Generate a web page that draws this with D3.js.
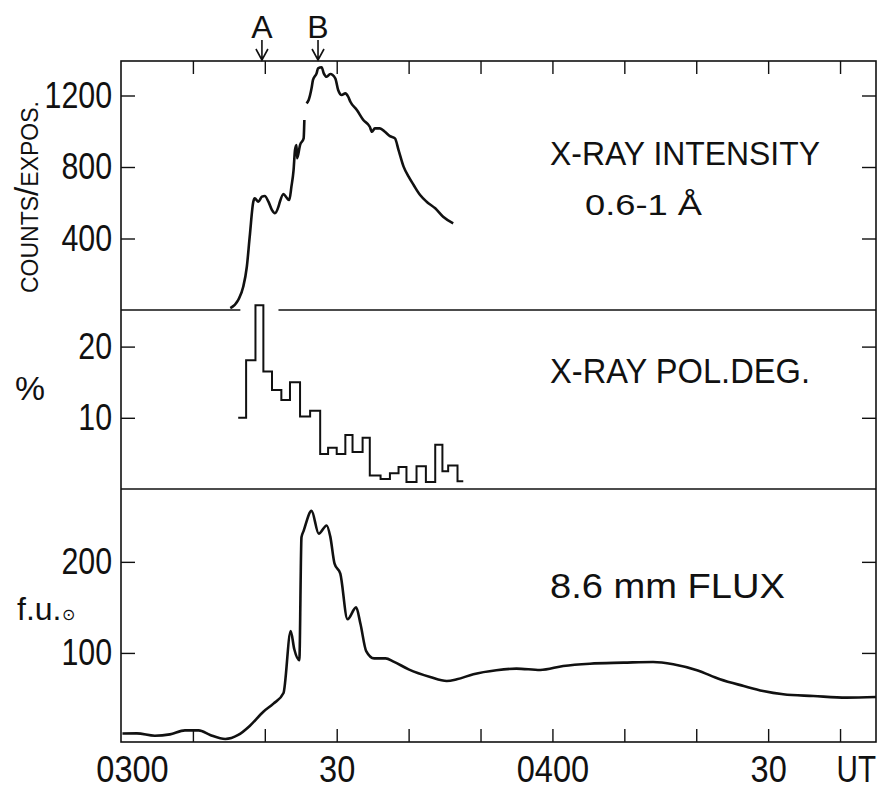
<!DOCTYPE html>
<html>
<head>
<meta charset="utf-8">
<script src="https://cdn.jsdelivr.net/npm/d3@7"></script>
<style>
  body { margin: 0; background: #fff; }
  svg text { font-family: "Liberation Sans", Arial, sans-serif; fill: #111; }
</style>
</head>
<body>
<div id="chart"></div>
<script>
// time in minutes after 0300 UT
const intensityTime = [15.2, 16.3, 17.0, 17.5, 17.9, 18.4, 18.6, 19.1, 19.6, 20.0, 20.5, 21.0, 21.4, 21.9, 22.1, 22.6, 23.0, 23.4, 23.7, 24.0, 24.2, 24.4, 24.5, 24.9, 25.4, 25.5, 25.65, 25.8, 26.1, 26.5, 26.7, 27.2, 27.4, 27.9, 28.2, 28.6, 29.1, 29.8, 30.2, 30.7, 31.2, 31.6, 31.9, 32.8, 33.7, 34.6, 34.9, 35.3, 36.0, 36.7, 37.4, 38.1, 38.6, 39.3, 40.0, 40.7, 41.6, 42.5, 43.7, 44.8, 46.2];
const intensityValue = [10, 56, 130, 242, 410, 606, 625, 606, 634, 638, 606, 559, 541, 578, 606, 649, 630, 615, 690, 783, 895, 923, 849, 923, 960, 1063, null, 1156, 1175, 1240, 1287, 1324, 1352, 1358, 1324, 1305, 1320, 1296, 1231, 1203, 1212, 1193, 1165, 1119, 1063, 1025, 997, 1016, 1016, 997, 973, 960, 895, 802, 746, 699, 643, 606, 569, 522, 485];

const polEdges = [16.3, 17.4, 18.7, 19.8, 21.0, 22.3, 23.5, 24.9, 26.3, 27.7, 28.8, 30.0, 31.2, 32.2, 33.6, 34.6, 36.1, 37.4, 38.6, 39.7, 41.1, 42.4, 43.7, 44.7, 45.5, 46.8, 47.6];
const polValue = [10.0, 18.1, 25.8, 16.5, 13.9, 12.5, 15.0, 10.2, 11.0, 4.9, 5.8, 4.9, 7.6, 5.2, 7.2, 1.9, 1.4, 2.2, 3.1, 1.0, 3.2, 1.0, 6.2, 2.5, 3.3, 1.1];

const fluxTime = [0.2, 2.2, 4.7, 6.8, 8.9, 10.8, 12.4, 14.5, 16.3, 17.9, 19.8, 21.2, 22.6, 23.6, 24.1, 24.8, 25.1, 25.4, 26.5, 27.5, 28.6, 29.1, 29.7, 30.5, 31.5, 32.7, 33.3, 34.1, 35.2, 36.8, 37.9, 40.0, 43.0, 45.3, 46.7, 49.0, 52.2, 55.0, 58.3, 61.5, 65.2, 69.9, 74.0, 76.8, 80.1, 83.3, 86.6, 89.3, 92.1, 96.3, 100.9, 105];
const fluxValue = [11.5, 11.7, 9.1, 10.6, 15.0, 15.0, 9.9, 5.5, 9.9, 19.8, 35.5, 44.3, 56, 124, 104, 92, 227, 234, 256, 231, 240, 228, 198, 187, 137, 150, 132, 102, 94, 94, 90.5, 82, 73.6, 69.2, 71, 76.6, 81, 82.8, 81.3, 85.7, 88.2, 89.3, 90.1, 87.6, 81, 71.1, 63.7, 58.2, 54.6, 52.7, 50.9, 51.6];

const timeTicks = [10, 20, 30, 40, 50, 60, 70, 80, 90, 100];
const timeLabelAt = [0, 30, 60, 90];
const timeLabels = ['0300', '30', '0400', '30'];
const intensityTicks = [400, 800, 1200];
const polTicks = [10, 20];
const fluxTicks = [100, 200];
const markerLabels = ['A', 'B'];
const markerTime = [19.6, 27.4];

const width = 882;
const height = 790;
const ink = '#111';

const svg = d3.select('#chart')
  .append('svg')
  .attr('width', width)
  .attr('height', height);

svg.append('rect').attr('width', width).attr('height', height).attr('fill', '#fff');

const x = d3.scaleLinear().domain([0, 105]).range([121, 876]);
const yInt = d3.scaleLinear().domain([0, 1393]).range([310, 61]);
const yPol = d3.scaleLinear().domain([0, 25]).range([489, 311]);
const yFlux = d3.scaleLinear().domain([0, 280]).range([744, 489]);

const frameTop = 61, frameBottom = 742, frameLeft = x(0), frameRight = x(105);

// squeeze text horizontally like the narrow stencil lettering
function squeeze(sel, k) {
  sel.each(function () {
    const w = this.getComputedTextLength();
    d3.select(this).attr('textLength', w * k).attr('lengthAdjust', 'spacingAndGlyphs');
  });
}

function label(str, px, py, size, len, anchor) {
  return svg.append('text')
    .attr('x', px).attr('y', py)
    .attr('font-size', size)
    .attr('text-anchor', anchor || 'start')
    .attr('textLength', len)
    .attr('lengthAdjust', 'spacingAndGlyphs')
    .text(str);
}

// frame and panel dividers
const frame = svg.append('g').attr('stroke', ink).attr('stroke-width', 1.6).attr('fill', 'none');
frame.append('rect').attr('x', frameLeft).attr('y', frameTop)
  .attr('width', frameRight - frameLeft).attr('height', frameBottom - frameTop);
frame.append('line').attr('x1', frameLeft).attr('x2', x(16.6)).attr('y1', yInt(0)).attr('y2', yInt(0));
frame.append('line').attr('x1', x(21.9)).attr('x2', frameRight).attr('y1', yInt(0)).attr('y2', yInt(0));
frame.append('line').attr('x1', frameLeft).attr('x2', frameRight)
  .attr('y1', yFlux.range()[1]).attr('y2', yFlux.range()[1]);

function styleAxis(g) {
  g.select('.domain').remove();
  g.selectAll('line').attr('stroke', ink).attr('stroke-width', 1.4);
  g.selectAll('text').attr('font-size', 37).attr('fill', ink).attr('font-family', null);
}

// time ticks on top and bottom edges, pointing inward
svg.append('g')
  .attr('transform', `translate(0, ${frameTop})`)
  .call(d3.axisTop(x).tickValues(timeTicks).tickSize(-13).tickFormat(''))
  .call(styleAxis);

svg.append('g')
  .attr('transform', `translate(0, ${frameBottom})`)
  .call(d3.axisBottom(x).tickValues(timeTicks).tickSize(-13).tickFormat(''))
  .call(styleAxis);

const timeAxis = svg.append('g')
  .attr('transform', `translate(0, ${frameBottom})`)
  .call(d3.axisBottom(x).tickValues(timeLabelAt).tickSize(0).tickPadding(14)
    .tickFormat((d, i) => timeLabels[i]))
  .call(styleAxis);
timeAxis.selectAll('.tick').filter(d => d === 0).select('text').attr('dx', 11);
squeeze(timeAxis.selectAll('text'), 0.88);

// unit of the time axis, narrowed by a transform so its box stays inside the page
svg.append('text')
  .attr('transform', 'translate(876, 782) scale(0.8, 1)')
  .attr('text-anchor', 'end')
  .attr('font-size', 37)
  .text('UT');

// value axes, left with labels and right plain, ticks inward
function valueAxes(scale, ticks) {
  const g = svg.append('g')
    .attr('transform', `translate(${frameLeft}, 0)`)
    .call(d3.axisLeft(scale).tickValues(ticks).tickSize(-14).tickPadding(9)
      .tickFormat(d3.format('d')))
    .call(styleAxis);
  squeeze(g.selectAll('text'), 0.82);
  svg.append('g')
    .attr('transform', `translate(${frameRight}, 0)`)
    .call(d3.axisRight(scale).tickValues(ticks).tickSize(-14).tickFormat(''))
    .call(styleAxis);
}
valueAxes(yInt, intensityTicks);
valueAxes(yPol, polTicks);
valueAxes(yFlux, fluxTicks);

// X-ray intensity
const intensity = intensityTime.map((t, i) => ({ t, v: intensityValue[i] }));
svg.append('path')
  .datum(intensity)
  .attr('fill', 'none')
  .attr('stroke', ink)
  .attr('stroke-width', 2.6)
  .attr('stroke-linejoin', 'round')
  .attr('d', d3.line()
    .defined(d => d.v != null)
    .x(d => x(d.t))
    .y(d => yInt(d.v))
    .curve(d3.curveMonotoneX));

// polarization degree, histogram steps
const pol = polValue.map((v, i) => ({ t: polEdges[i], v }));
pol.push({ t: polEdges[polEdges.length - 1], v: polValue[polValue.length - 1] });
svg.append('path')
  .datum(pol)
  .attr('fill', 'none')
  .attr('stroke', ink)
  .attr('stroke-width', 2)
  .attr('d', d3.line()
    .x(d => x(d.t))
    .y(d => yPol(d.v))
    .curve(d3.curveStepAfter));

// 8.6 mm flux
const flux = fluxTime.map((t, i) => ({ t, v: fluxValue[i] }));
svg.append('path')
  .datum(flux)
  .attr('fill', 'none')
  .attr('stroke', ink)
  .attr('stroke-width', 2.6)
  .attr('stroke-linejoin', 'round')
  .attr('d', d3.line()
    .x(d => x(d.t))
    .y(d => yFlux(d.v))
    .curve(d3.curveMonotoneX));

// A / B markers above the frame
const marks = svg.append('g');
markerTime.forEach((t, i) => {
  const mx = x(t);
  marks.append('text')
    .attr('x', mx).attr('y', 38)
    .attr('font-size', 32)
    .attr('text-anchor', 'middle')
    .text(markerLabels[i]);
  marks.append('path')
    .attr('d', `M${mx},40 V${frameTop - 1} M${mx - 6},49 L${mx},${frameTop - 1} L${mx + 6},49`)
    .attr('fill', 'none')
    .attr('stroke', ink)
    .attr('stroke-width', 1.6);
});

// panel titles
label('X-RAY INTENSITY', 550, 165, 33, 270);
label('0.6-1 Å', 585, 215, 29, 117);
label('X-RAY POL.DEG.', 550, 383, 35, 260);
label('8.6 mm FLUX', 550, 598, 35, 235);

// unit labels
label('%', 15, 400, 34, 30);

const fu = svg.append('text')
  .attr('x', 17).attr('y', 620)
  .attr('font-size', 32);
fu.append('tspan').text('f.u.');
fu.append('tspan').attr('font-size', 16).attr('dx', 1).text('⊙');

const counts = svg.append('text')
  .attr('transform', 'translate(38, 293) rotate(-90)')
  .attr('font-size', 23);
counts.append('tspan').text('COUNTS');
counts.append('tspan').attr('font-size', 33).text('/');
counts.append('tspan').text('EXPOS.');
</script>
</body>
</html>
